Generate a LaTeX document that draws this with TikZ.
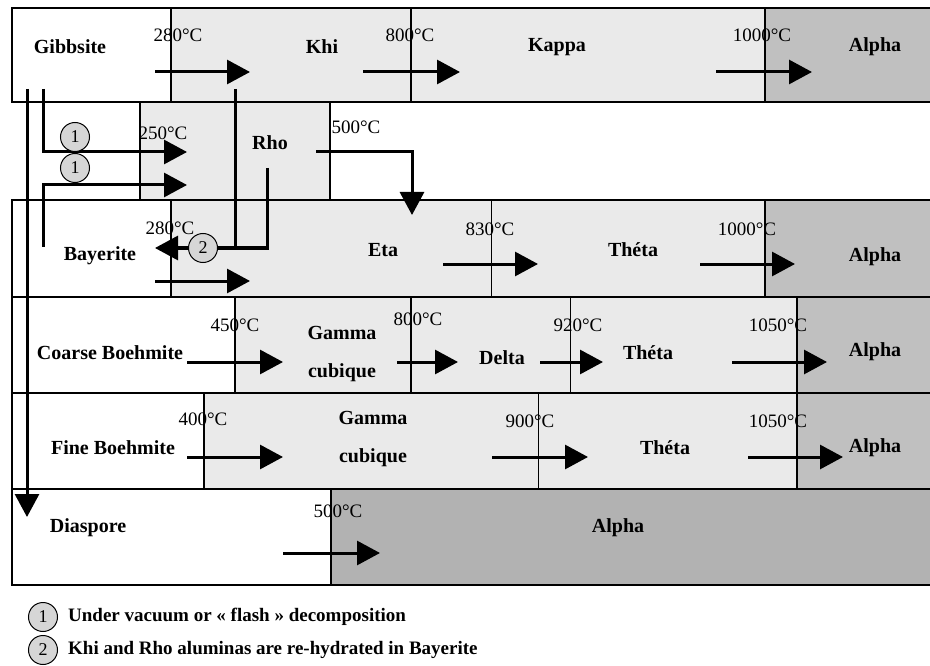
\documentclass[tikz,border=0pt]{standalone}
\usepackage{fontspec}
\setmainfont{Liberation Serif}
\usetikzlibrary{arrows.meta,positioning}
\definecolor{cellgray}{HTML}{EAEAEA}
\definecolor{alphagray}{HTML}{C0C0C0}
\definecolor{alphadark}{HTML}{B2B2B2}
\definecolor{numgray}{HTML}{D6D6D6}

\begin{document}
\begin{tikzpicture}[
  x=1pt, y=-1pt,
  phase/.style={font=\fontsize{20}{24}\selectfont\bfseries, inner sep=0pt},
  temp/.style={font=\fontsize{19}{22}\selectfont, inner sep=0pt},
  note/.style={font=\fontsize{19}{22}\selectfont\bfseries, inner sep=0pt},
  num/.style={circle, draw, line width=1pt, fill=numgray, minimum size=29pt,
              inner sep=0pt, font=\fontsize{18}{20}\selectfont},
  rowline/.style={line width=1.5pt},
  major/.style={line width=2.6pt},
  minor/.style={line width=1pt},
  shaft/.style={line width=3pt},
  arr/.style={line width=3pt, -{Triangle[length=23pt,width=24pt]}}
]
\useasboundingbox (0,0) rectangle (930,666);
\clip (0,0) rectangle (930,666);

% cells
\fill[cellgray] (171,8) rectangle (765,102);
\fill[alphagray] (765,8) rectangle (940,102);
\fill[cellgray] (140,102) rectangle (330,200);
\fill[cellgray] (171,200) rectangle (765,297);
\fill[alphagray] (765,200) rectangle (940,297);
\fill[cellgray] (235,297) rectangle (797,393);
\fill[alphagray] (797,297) rectangle (940,393);
\fill[cellgray] (204,393) rectangle (797,489);
\fill[alphagray] (797,393) rectangle (940,489);
\fill[alphadark] (331,489) rectangle (940,585);

\draw[rowline] (12,8) rectangle (940,102);
\draw[rowline] (140,102) rectangle (330,200);
\draw[rowline] (12,200) rectangle (940,297);
\draw[rowline] (12,297) rectangle (940,393);
\draw[rowline] (12,393) rectangle (940,489);
\draw[rowline] (12,489) rectangle (940,585);

\foreach \x/\ya/\yb in {171/8/102, 411/8/102, 765/8/102, 171/200/297, 765/200/297,
    235/297/393, 411/297/393, 797/297/393, 204/393/489, 797/393/489, 331/489/585}
  \draw[major] (\x,\ya) -- (\x,\yb);
\foreach \x/\ya/\yb in {491/200/297, 570/297/393, 538/393/489}
  \draw[minor] (\x,\ya) -- (\x,\yb);

% phases
\node[phase] (gibbsite) at (70,47) {Gibbsite};
\node[phase] (khi) at (322,47) {Khi};
\node[phase] (kappa) at (557,47) {Kappa};
\node[phase] (alpha1) at (875,47) {Alpha};
\node[phase] (rho) at (270,143) {Rho};
\node[phase] (bayerite) at (100,256) {Bayerite};
\node[phase] (eta) at (383,250) {Eta};
\node[phase] (theta2) at (633,250) {Théta};
\node[phase] (alpha2) at (875,257) {Alpha};
\node[phase] (coarse) at (110,353) {Coarse Boehmite};
\node[phase, align=center] (gamma3) at (342,354) {Gamma\\[14pt]cubique};
\node[phase] (delta) at (502,358) {Delta};
\node[phase] (theta3) at (648,353) {Théta};
\node[phase] (alpha3) at (875,352) {Alpha};
\node[phase] (fine) at (113,448) {Fine Boehmite};
\node[phase, align=center] (gamma4) at (373,439) {Gamma\\[14pt]cubique};
\node[phase] (theta4) at (665,448) {Théta};
\node[phase] (alpha4) at (875,448) {Alpha};
\node[phase] (diaspore) at (88,528) {Diaspore};
\node[phase] (alpha5) at (618,528) {Alpha};

% temperatures
\node[temp] (g280) at (178,35) {280°C};
\node[temp] (k800) at (410,35) {800°C};
\node[temp] (k1000) at (762,35) {1000°C};
\node[temp] (r250) at (163,133) {250°C};
\node[temp] (r500) at (356,127) {500°C};
\node[temp] (b280) at (170,228) {280°C};
\node[temp] (e830) at (490,229) {830°C};
\node[temp] (e1000) at (747,229) {1000°C};
\node[temp] (c450) at (235,325) {450°C};
\node[temp] (c800) at (418,319) {800°C};
\node[temp] (c920) at (578,325) {920°C};
\node[temp] (c1050) at (778,325) {1050°C};
\node[temp] (f400) at (203,419) {400°C};
\node[temp] (f900) at (530,421) {900°C};
\node[temp] (f1050) at (778,421) {1050°C};
\node[temp] (d500) at (338,511) {500°C};

% transitions
\foreach \i/\xa/\xb/\y in {1/155/250/72, 2/363/460/72, 3/716/812/72,
    4/155/250/281, 5/443/538/264, 6/700/795/264,
    7/187/283/362, 8/397/458/362, 9/540/603/362, 10/732/827/362,
    11/187/283/457, 12/492/588/457, 13/748/843/457, 14/283/380/553} {
  \coordinate (t\i a) at (\xa,\y);
  \coordinate (t\i b) at (\xb,\y);
  \draw[arr] (t\i a) -- (t\i b);
}

% side routes
\coordinate (gib-a) at (27,89);
\coordinate (dia-in) at (27,517);
\coordinate (gib-b) at (43,89);
\coordinate (rho-in1) at (187,152);
\coordinate (bay-out) at (43,247);
\coordinate (rho-in2) at (187,185);
\coordinate (rho-out) at (316,152);
\coordinate (eta-in) at (412,215);
\coordinate (khi-out) at (235,89);
\coordinate (rho-down) at (267,168);
\coordinate (bay-in) at (155,248);

\draw[arr] (gib-a) -- (dia-in);
\draw[arr] (gib-b) |- (rho-in1);
\draw[arr] (bay-out) |- (rho-in2);
\draw[arr] (rho-out) -| (eta-in);
\node[num] (n2) at (203,248) {2};
\draw[shaft] (khi-out) |- (n2.east);
\draw[shaft] (rho-down) |- (n2.east);
\draw[arr] (n2.west) -- (bay-in);
\node[num] (n1a) at (75,137) {1};
\node[num] (n1b) at (75,168) {1};

% key
\node[num] (k1) at (43,617) {1};
\node[num] (k2) at (43,650) {2};
\node[note, right=10pt of k1] (k1t) {Under vacuum or « flash » decomposition};
\node[note, right=10pt of k2] (k2t) {Khi and Rho aluminas are re-hydrated in Bayerite};
\end{tikzpicture}
\end{document}
